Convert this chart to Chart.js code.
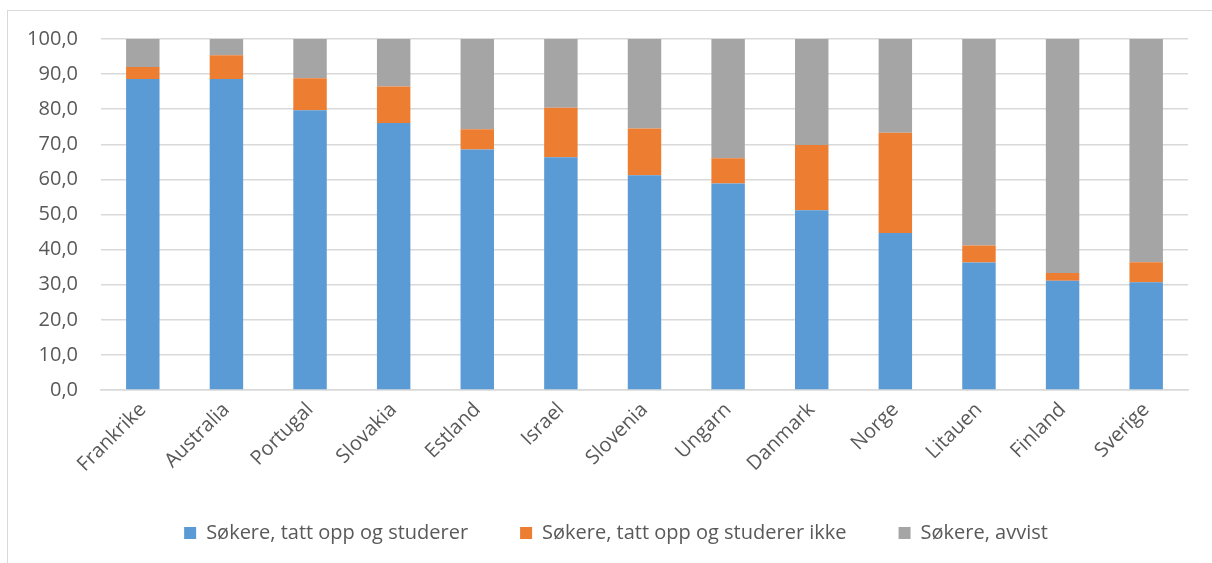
<!DOCTYPE html>
<html>
<head>
<meta charset="utf-8">
<script src="https://cdn.jsdelivr.net/npm/chart.js@4"></script>
<style>
  html, body { margin: 0; padding: 0; overflow: hidden; background: #fff; }
  #frame { position: absolute; left: 7px; top: 10px; width: 1400px; height: 700px; border: 1px solid #d9d9d9; }
  #wrap { position: absolute; left: 0; top: 0; width: 1212px; height: 563px; }
</style>
</head>
<body>
<div id="frame"></div>
<div id="wrap"><canvas id="chart"></canvas></div>
<script>
// land
const countries = ['Frankrike', 'Australia', 'Portugal', 'Slovakia', 'Estland', 'Israel', 'Slovenia',
    'Ungarn', 'Danmark', 'Norge', 'Litauen', 'Finland', 'Sverige'];

// andel (%) av søkere
const studerer = [88.6, 88.6, 79.7, 76.1, 68.5, 66.3, 61.2, 58.8, 51.2, 44.7, 36.3, 31.1, 30.7];
const studererIkke = [3.4, 6.8, 9.1, 10.4, 5.8, 14.1, 13.3, 7.2, 18.6, 28.6, 4.9, 2.2, 5.7];
const avvist = [8.0, 4.6, 11.2, 13.5, 25.7, 19.6, 25.5, 34.0, 30.2, 26.7, 58.8, 66.7, 63.6];

const yTicks = [0, 10, 20, 30, 40, 50, 60, 70, 80, 90, 100];

const fontFamily = '"Open Sans", "Liberation Sans", sans-serif';
const textColor = '#595959';

// flytt legenden litt mot høyre, som i originalen
const shiftLegend = {
    id: 'shiftLegend',
    afterLayout(chart) {
        chart.legend.left = 44;
    }
};

const ctx = document.getElementById('chart').getContext('2d');
const chart = new Chart(ctx, {
    type: 'bar',
    data: {
        labels: countries,
        datasets: [
            { label: 'Søkere, tatt opp og studerer', data: studerer, backgroundColor: '#5b9bd5' },
            { label: 'Søkere, tatt opp og studerer ikke', data: studererIkke, backgroundColor: '#ed7d31' },
            { label: 'Søkere, avvist', data: avvist, backgroundColor: '#a5a5a5' }
        ]
    },
    options: {
        responsive: true,
        maintainAspectRatio: false,
        animation: false,
        datasets: {
            bar: { categoryPercentage: 1, barPercentage: 0.4 }
        },
        layout: {
            padding: { top: 39, right: 24, left: 0, bottom: 10 }
        },
        plugins: {
            tooltip: { enabled: false },
            legend: {
                position: 'bottom',
                labels: {
                    boxWidth: 12,
                    boxHeight: 12,
                    padding: 52,
                    color: textColor,
                    font: { family: fontFamily, size: 20 }
                }
            }
        },
        scales: {
            x: {
                stacked: true,
                grid: { display: false, drawTicks: false },
                border: { display: true, color: '#d9d9d9', width: 1.5 },
                ticks: {
                    color: textColor,
                    font: { family: fontFamily, size: 20 },
                    minRotation: 45,
                    maxRotation: 45,
                    padding: 8
                },
                afterFit: scale => { scale.height = 81; }
            },
            y: {
                stacked: true,
                min: 0,
                max: 100,
                afterBuildTicks: scale => { scale.ticks = yTicks.map(v => ({ value: v })); },
                grid: { color: '#d9d9d9', lineWidth: 1.5, drawTicks: false },
                border: { display: false },
                ticks: {
                    color: textColor,
                    font: { family: fontFamily, size: 20 },
                    padding: 23,
                    callback: v => v.toFixed(1).replace('.', ',')
                },
                afterFit: scale => { scale.width = 101; }
            }
        }
    },
    plugins: [shiftLegend]
});
</script>
</body>
</html>
